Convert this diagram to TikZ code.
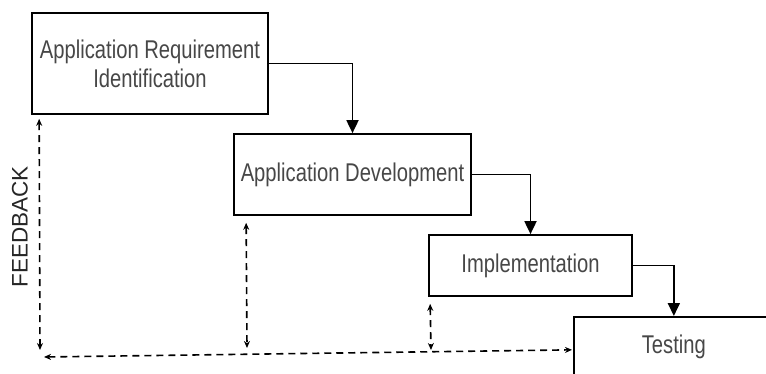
\documentclass[tikz,border=0pt]{standalone}
\usepackage{fontspec}
\setmainfont{Liberation Sans}
\usepackage{graphicx}
\usetikzlibrary{arrows.meta,calc,positioning}

% text in the boxes is set a little taller than wide
\newcommand{\tall}[1]{\scalebox{1}[1.27]{#1}}

\begin{document}
\begin{tikzpicture}[x=1pt,y=-1pt,
  stage/.style={draw, line width=1.7pt, fill=white, inner sep=0pt,
    text=black!72, font=\fontsize{20.2}{29}\selectfont, align=center},
  flow/.style={line width=1.8pt, -{Triangle[length=13pt,width=12pt]}},
  fback/.style={line width=1.6pt, dash pattern=on 7pt off 5pt,
    {Stealth[length=7pt,width=6pt]}-{Stealth[length=7pt,width=6pt]}}]
  \useasboundingbox (0,0) rectangle (766,374);
  \clip (0,0) rectangle (766,374);

  \node[stage, minimum width=236pt, minimum height=101pt] (req) at (150,63.5)
    {\tall{Application Requirement}\\\tall{Identification}};
  \node[stage, minimum width=237pt, minimum height=81pt] (dev) at (352.5,174.5)
    {\tall{Application Development}};
  \node[stage, minimum width=203pt, minimum height=61pt] (impl) at (530.5,265.5)
    {\tall{Implementation}};
  \node[stage, minimum width=200pt, minimum height=60pt, anchor=north west] (test) at (573,316)
    {\tall{Testing}};

  \draw[flow] (req.east) -| (dev.north);
  \draw[flow] (dev.east) -| (impl.north);
  \draw[flow] (impl.east) -| (test.north);

  % feedback paths
  \coordinate (fbreq) at ($(req.south west)+(8,4)$);
  \coordinate (fbcorner) at (40,350);
  \coordinate (fbstart) at (44,357);
  \coordinate (fbdev) at ($(dev.south west)+(13,7)$);
  \coordinate (fbdevend) at (247,348);
  \coordinate (fbimpl) at ($(impl.south west)+(2,7)$);
  \coordinate (fbimplend) at (431,350);
  \coordinate (fbtest) at ($(test.west)+(-1,3)$);

  \draw[fback] (fbreq) -- (fbcorner);
  \draw[fback] (fbstart) -- (fbtest);
  \draw[fback] (fbdev) -- (fbdevend);
  \draw[fback] (fbimpl) -- (fbimplend);

  \node[rotate=90, font=\fontsize{22.5}{26}\selectfont, text=black!85] (fblabel) at (20,227) {FEEDBACK};
\end{tikzpicture}
\end{document}
